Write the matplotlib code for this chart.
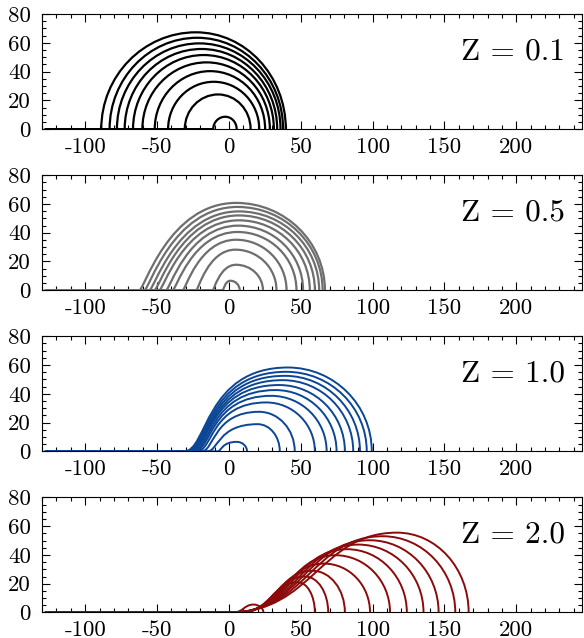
import matplotlib
matplotlib.use("Agg")
import matplotlib.pyplot as plt
from matplotlib.path import Path
from matplotlib.patches import PathPatch
from matplotlib.ticker import MultipleLocator

plt.rcParams['font.family'] = ['cmr10', 'DejaVu Serif']
plt.rcParams['axes.unicode_minus'] = False
plt.rcParams['mathtext.fontset'] = 'cm'

# values, outer curve first, last entry is the small bump
z_labels = ['Z = 0.1', 'Z = 0.5', 'Z = 1.0', 'Z = 2.0']
colors = ['#000000', '#6e6e6e', '#0b4595', '#8b0a0a']
line_widths = [1.6, 1.6, 1.4, 1.4]

foot_01 = [-88.8, -83.0, -77.9, -72.5, -66.7, -60.2, -51.6, -42.3, -30.7, -10.9]
apex_x_01 = [-23, -22, -20.5, -19, -17.5, -15.5, -13, -10.5, -7.5, -2.5]
apex_y_01 = [67.3, 63.5, 59.6, 55.7, 51.5, 46.4, 40.3, 32.9, 24.1, 8.6]
end_01 = [39.6, 37.7, 35.9, 33.6, 31.3, 28.5, 25.2, 21.1, 15.1, 5.4]

foot_05 = [-62.3, -58.8, -55.3, -51.8, -48.4, -43.7, -39.1, -32.1, -22.7, -11.2, -4.2]
apex_x_05 = [5, 6, 7, 7, 7, 6.5, 6, 5, 4.5, 5, 1]
apex_y_05 = [60.7, 57.9, 54.8, 52.0, 48.6, 44.9, 40.5, 35.1, 28.2, 17.7, 6.6]
end_05 = [66.8, 65.2, 62.8, 59.8, 56.3, 51.6, 47.0, 40.1, 33.1, 23.7, 7.5]

foot_10 = [-31, -30, -29, -28, -27, -25.5, -24, -22, -19, -15, -8]
apex_x_10 = [41, 40, 39, 37.5, 35, 32.5, 29.5, 26, 21, 20, 5.5]
apex_y_10 = [58.3, 55.3, 52.5, 49.5, 46.1, 42.6, 38.6, 34.0, 27.5, 18.9, 6.6]
end_10 = [99.4, 95.9, 91.2, 86.5, 80.7, 74.9, 68.0, 59.8, 45.8, 35.4, 12.6]

foot_20 = [0, 1, 2, 3, 4, 5, 6, 7, 8, 9, 3]
apex_x_20 = [117, 107, 98, 90, 82, 74, 66, 58, 53, 48, 17]
apex_y_20 = [55.5, 53.0, 50.2, 47.2, 44.0, 39.8, 34.0, 29.0, 25.0, 21.0, 5.5]
end_20 = [166.8, 157.5, 145.9, 135.4, 123.8, 112.1, 98.2, 80.7, 69.1, 59.8, 24]

panels = [
    (foot_01, apex_x_01, apex_y_01, end_01),
    (foot_05, apex_x_05, apex_y_05, end_05),
    (foot_10, apex_x_10, apex_y_10, end_10),
    (foot_20, apex_x_20, apex_y_20, end_20),
]
# shape of the rising side: (u, v, k) per panel
rise_shape = [(0.0, 0.5523, 0.5523), (0.05, 0.0, 0.7), (0.22, 0.0, 0.8), (0.5, 0.0, 0.46)]
x_start = -128
kr = 0.5523

fig, axes = plt.subplots(4, 1, figsize=(5.84, 6.38), dpi=100)
fig.subplots_adjust(left=0.072, right=0.9974, top=0.978, bottom=0.040, hspace=0.4)

for i, ax in enumerate(axes):
    foot, ax_x, ax_y, end = panels[i]
    u, v, k = rise_shape[i]
    for xf, xa, h, xe in zip(foot, ax_x, ax_y, end):
        w = xa - xf
        verts = [(x_start, 0), (xf, 0),
                 (xf + u * w, v * h), (xa - k * w, h), (xa, h),
                 (xa + kr * (xe - xa), h), (xe, kr * h), (xe, 0)]
        codes = [Path.MOVETO, Path.LINETO] + [Path.CURVE4] * 6
        ax.add_patch(PathPatch(Path(verts, codes), fill=False,
                               edgecolor=colors[i], lw=line_widths[i], zorder=3))
    ax.set_xlim(-130, 246)
    ax.set_ylim(0, 80)
    ax.xaxis.set_major_locator(MultipleLocator(50))
    ax.xaxis.set_minor_locator(MultipleLocator(10))
    ax.yaxis.set_major_locator(MultipleLocator(20))
    ax.yaxis.set_minor_locator(MultipleLocator(5))
    ax.tick_params(which='both', direction='in', top=True, right=True,
                   labelsize=16.5, width=0.8)
    ax.tick_params(which='major', length=6)
    ax.tick_params(which='minor', length=3)
    ax.tick_params(axis='x', pad=6)
    ax.tick_params(axis='y', pad=8)
    for s in ax.spines.values():
        s.set_linewidth(0.8)
    ax.text(0.968, 0.605, z_labels[i], transform=ax.transAxes,
            ha='right', va='baseline', fontsize=22.5)

fig.savefig('out.png', dpi=100)
